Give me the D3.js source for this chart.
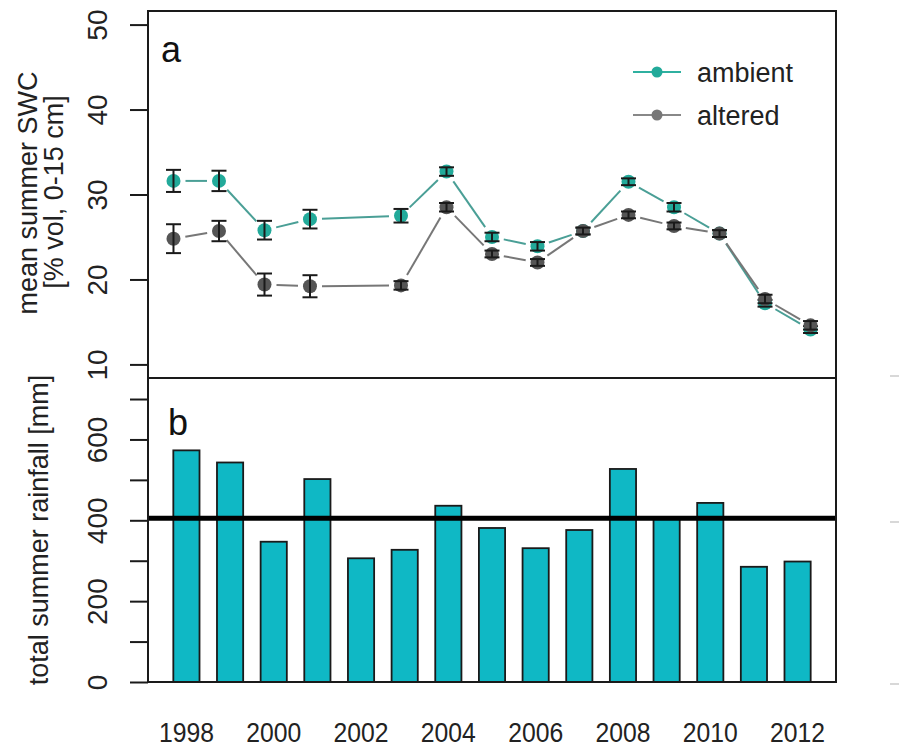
<!DOCTYPE html>
<html>
<head>
<meta charset="utf-8">
<script src="https://cdn.jsdelivr.net/npm/d3@7"></script>
<style>
  html, body { margin: 0; padding: 0; background: #fff; }
  svg { display: block; font-family: "Liberation Sans", Arial, sans-serif; }
</style>
</head>
<body>
<svg id="chart" width="904" height="748"></svg>
<script>
// Panel a: mean summer soil water content (0-15 cm), mean ± SE per treatment
const swcYears   = [1998, 1999, 2000, 2001, 2003, 2004, 2005, 2006, 2007, 2008, 2009, 2010, 2011, 2012];
const ambient    = [31.6, 31.6, 25.8, 27.1, 27.5, 32.7, 25.0, 23.9, 25.7, 31.5, 28.5, 25.4, 17.2, 14.1];
const ambientSE  = [1.3, 1.2, 1.1, 1.1, 0.8, 0.5, 0.5, 0.5, 0.4, 0.4, 0.5, 0.4, 0.4, 0.4];
const altered    = [24.8, 25.7, 19.4, 19.2, 19.3, 28.5, 23.0, 22.0, 25.7, 27.6, 26.3, 25.4, 17.7, 14.6];
const alteredSE  = [1.7, 1.2, 1.3, 1.3, 0.5, 0.5, 0.4, 0.4, 0.4, 0.4, 0.4, 0.4, 0.5, 0.5];
const swcTicks   = [10, 20, 30, 40, 50];

// Panel b: total summer rainfall per year and long-term mean
const rainYears  = [1998, 1999, 2000, 2001, 2002, 2003, 2004, 2005, 2006, 2007, 2008, 2009, 2010, 2011, 2012];
const rainfall   = [573, 543, 347, 502, 306, 327, 436, 381, 331, 376, 527, 405, 443, 285, 298];
const rainMean   = 405;
const rainTicks  = [0, 100, 200, 300, 400, 500, 600, 700];
const rainLabels = [0, 200, 400, 600];
const yearLabels = [1998, 2000, 2002, 2004, 2006, 2008, 2010, 2012];

const seriesNames = ["ambient", "altered"];

const svg = d3.select("#chart");
const L = 148, R = 836, TOP = 11, MID = 378, BOT = 682;
const ink = "#1a1a1a";
const teal = "#22aa9a", tealLine = "#4a9f96";
const grey = "#555555", greyLine = "#777777";
const barFill = "#0fb8c5";

// ---------- scales ----------
const xTop = d3.scaleLinear().domain([1997.44, 2012.56]).range([L, R]);
const yTop = d3.scaleLinear().domain([8.4, 51.6]).range([MID, TOP]);
const xBar = d3.scaleBand().domain(rainYears).range([L, R]).paddingInner(0.4).paddingOuter(0.58);
const yBar = d3.scaleLinear().domain([0, 752]).range([BOT, MID]);

// ---------- panel a ----------
const gA = svg.append("g");

function drawSeries(vals, se, lineColor, fill) {
  const pts = swcYears.map((yr, i) => ({ x: xTop(yr), y: yTop(vals[i]), lo: yTop(vals[i] - se[i]), hi: yTop(vals[i] + se[i]) }));
  // connecting segments, broken around each point
  const gap = 12;
  const segs = d3.pairs(pts).map(([a, b]) => {
    const dx = b.x - a.x, dy = b.y - a.y, len = Math.hypot(dx, dy);
    const ux = dx / len, uy = dy / len;
    return len > 2 * gap ? [a.x + ux * gap, a.y + uy * gap, b.x - ux * gap, b.y - uy * gap] : null;
  }).filter(Boolean);
  gA.append("g").selectAll("line").data(segs).join("line")
    .attr("x1", d => d[0]).attr("y1", d => d[1]).attr("x2", d => d[2]).attr("y2", d => d[3])
    .attr("stroke", lineColor).attr("stroke-width", 2);
  gA.append("g").selectAll("circle").data(pts).join("circle")
    .attr("cx", d => d.x).attr("cy", d => d.y).attr("r", 7)
    .attr("fill", fill);
  const eb = gA.append("g").attr("stroke", ink).attr("stroke-width", 2);
  eb.selectAll("line.v").data(pts).join("line").attr("class", "v")
    .attr("x1", d => d.x).attr("x2", d => d.x).attr("y1", d => d.lo).attr("y2", d => d.hi);
  eb.selectAll("line.lo").data(pts).join("line").attr("class", "lo")
    .attr("x1", d => d.x - 7.5).attr("x2", d => d.x + 7.5).attr("y1", d => d.lo).attr("y2", d => d.lo);
  eb.selectAll("line.hi").data(pts).join("line").attr("class", "hi")
    .attr("x1", d => d.x - 7.5).attr("x2", d => d.x + 7.5).attr("y1", d => d.hi).attr("y2", d => d.hi);
}
drawSeries(ambient, ambientSE, tealLine, teal);
drawSeries(altered, alteredSE, greyLine, grey);

// left axis of panel a
const axA = d3.axisLeft(yTop).tickValues(swcTicks).tickSize(18).tickFormat(d3.format("d"));
const gAxA = svg.append("g").attr("transform", `translate(${L},0)`).call(axA);
gAxA.select(".domain").remove();
gAxA.selectAll(".tick line").attr("stroke", ink).attr("stroke-width", 2);
gAxA.selectAll(".tick text")
  .attr("x", 0).attr("dy", 0)
  .attr("transform", "translate(-41,0) rotate(-90)")
  .attr("text-anchor", "middle").attr("font-size", 28).attr("fill", "#222");

// legend
const legY = [72, 115];
const legLine = ["#2fb0a0", "#888888"];
const legFill = [teal, "#777777"];
seriesNames.forEach((name, i) => {
  svg.append("line").attr("x1", 633).attr("x2", 681).attr("y1", legY[i]).attr("y2", legY[i])
    .attr("stroke", legLine[i]).attr("stroke-width", 2);
  svg.append("circle").attr("cx", 657).attr("cy", legY[i]).attr("r", 5.5).attr("fill", legFill[i]);
  svg.append("text").attr("x", 697).attr("y", legY[i] + 10).attr("font-size", 27).attr("fill", "#222").text(name);
});

svg.append("text").attr("x", 161).attr("y", 62).attr("font-size", 36).attr("fill", "#111").text("a");

// ---------- panel b ----------
svg.append("g").selectAll("rect").data(rainYears).join("rect")
  .attr("x", d => xBar(d)).attr("width", xBar.bandwidth())
  .attr("y", (d, i) => yBar(rainfall[i])).attr("height", (d, i) => yBar(0) - yBar(rainfall[i]))
  .attr("fill", barFill).attr("stroke", ink).attr("stroke-width", 1.8);

svg.append("line").attr("x1", L).attr("x2", R).attr("y1", yBar(rainMean)).attr("y2", yBar(rainMean))
  .attr("stroke", "#000").attr("stroke-width", 5);

const axB = d3.axisLeft(yBar).tickValues(rainTicks).tickSize(18)
  .tickFormat(d => rainLabels.includes(d) ? d : "");
const gAxB = svg.append("g").attr("transform", `translate(${L},0)`).call(axB);
gAxB.select(".domain").remove();
gAxB.selectAll(".tick line").attr("stroke", ink).attr("stroke-width", 2);
gAxB.selectAll(".tick text")
  .attr("x", 0).attr("dy", 0)
  .attr("transform", "translate(-41,0) rotate(-90)")
  .attr("text-anchor", "middle").attr("font-size", 28).attr("fill", "#222");

// year labels under the bars
svg.append("g").selectAll("text").data(yearLabels).join("text")
  .attr("x", d => xBar(d) + xBar.bandwidth() / 2).attr("y", 742)
  .attr("text-anchor", "middle").attr("font-size", 28).attr("fill", "#222")
  .attr("textLength", 55).attr("lengthAdjust", "spacingAndGlyphs")
  .text(d => d);

svg.append("text").attr("x", 168).attr("y", 435).attr("font-size", 36).attr("fill", "#111").text("b");

// ---------- frames ----------
svg.append("rect").attr("x", L).attr("y", TOP).attr("width", R - L).attr("height", MID - TOP)
  .attr("fill", "none").attr("stroke", ink).attr("stroke-width", 2);
svg.append("rect").attr("x", L).attr("y", MID).attr("width", R - L).attr("height", BOT - MID)
  .attr("fill", "none").attr("stroke", ink).attr("stroke-width", 2);

// ---------- axis titles ----------
function vtitle(x, y, txt) {
  svg.append("text").attr("transform", `translate(${x},${y}) rotate(-90)`)
    .attr("text-anchor", "middle").attr("font-size", 27).attr("fill", "#222").text(txt);
}
vtitle(37, 193, "mean summer SWC");
vtitle(63, 192, "[% vol, 0-15 cm]");
vtitle(48, 530, "total summer rainfall [mm]");

// faint marks of the neighbouring panel at the right edge
svg.append("g").selectAll("line").data([376, 522, 684]).join("line")
  .attr("x1", 890).attr("x2", 899).attr("y1", d => d).attr("y2", d => d)
  .attr("stroke", "#d8d8d8").attr("stroke-width", 2);
</script>
</body>
</html>
